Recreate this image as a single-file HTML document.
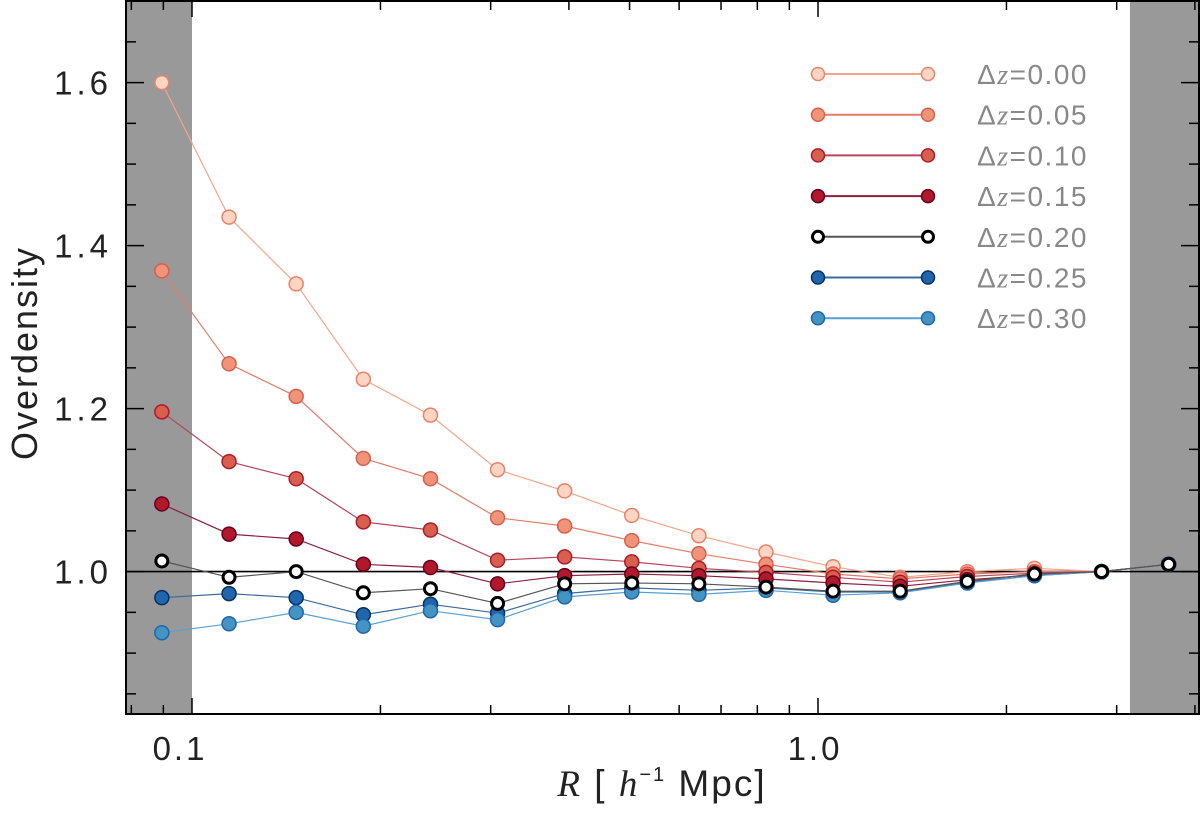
<!DOCTYPE html>
<html><head><meta charset="utf-8"><style>
body{margin:0;background:#fff;}
svg{display:block;font-family:"Liberation Sans",sans-serif;}
</style></head><body>
<svg id="chart" width="1200" height="820"></svg>
<script>
const radii=[0.0895,0.1146,0.1467,0.1878,0.2404,0.3077,0.3938,0.5041,0.6452,0.8259,1.057,1.353,1.732,2.217,2.838,3.632];
const labels=["Δz=0.00","Δz=0.05","Δz=0.10","Δz=0.15","Δz=0.20","Δz=0.25","Δz=0.30"];
const s000=[1.600,1.435,1.353,1.236,1.192,1.125,1.099,1.069,1.044,1.024,1.006,0.993,1.000,1.004,1.000,1.009];
const s005=[1.369,1.255,1.215,1.139,1.114,1.066,1.056,1.038,1.022,1.009,0.997,0.991,0.997,1.000,1.000,1.009];
const s010=[1.196,1.135,1.114,1.061,1.051,1.014,1.018,1.012,1.004,0.999,0.993,0.987,0.994,0.998,1.000,1.009];
const s015=[1.083,1.046,1.040,1.009,1.005,0.985,0.995,0.997,0.995,0.991,0.986,0.982,0.990,0.996,1.000,1.009];
const s020=[1.013,0.993,1.000,0.974,0.979,0.961,0.985,0.986,0.985,0.981,0.976,0.976,0.988,0.997,1.000,1.009];
const s025=[0.968,0.973,0.968,0.947,0.960,0.949,0.973,0.980,0.977,0.980,0.975,0.975,0.987,0.995,1.000,1.009];
const s030=[0.925,0.936,0.950,0.933,0.952,0.941,0.969,0.975,0.972,0.977,0.971,0.974,0.986,0.995,1.000,1.009];
const yTicks=[1.0,1.2,1.4,1.6];
const xTicks=[0.1,1.0];

const NS="http://www.w3.org/2000/svg";
const svg=document.getElementById('chart');
const L=126,R=1199,T=1,B=714;
function xs(v){return 818+626*Math.log10(v);}
function ys(v){return 571.6-(v-1)*815;}
function mk(tag,attrs,parent){const e=document.createElementNS(NS,tag);for(const k in attrs)e.setAttribute(k,attrs[k]);(parent||svg).appendChild(e);return e;}

let g=mk('rect',{x:L,y:T,width:xs(0.1)-L,height:B-T,fill:'#999'});


g=mk('rect',{x:xs(3.15),y:T,width:R-xs(3.15),height:B-T,fill:'#999'});



g=mk('line',{x1:L,x2:R,y1:ys(1),y2:ys(1),stroke:'#000','stroke-width':1.6});



const series=[s000,s005,s010,s015,s020,s025,s030];
const fills=['#fdd5c2','#f09479','#d6604d','#b2182b','#fff','#2166ac','#4393c3'];
const strokes=['#e8826a','#d6604d','#b2182b','#67001f','#000','#053061','#2166ac'];
const lines=['#f4a58a','#e07d68','#b8455a','#8a2040','#555','#3d6a9a','#5a9fd0'];
const order=[0,1,2,3,5,6,4];
order.forEach(i=>{
  const grp=mk('g',{});
  
  
  const pts=series[i].map((v,j)=>xs(radii[j]).toFixed(1)+','+ys(v).toFixed(1)).join(' ');
  mk('polyline',{points:pts,fill:'none',stroke:lines[i],'stroke-width':1.2},grp);
  series[i].forEach((v,j)=>{
    const c=mk('circle',{cx:xs(radii[j]),cy:ys(v),r:i===4?6:7,fill:fills[i],stroke:strokes[i],'stroke-width':i===4?3:1.5},grp);
    
    
  });
});

g=mk('rect',{x:L,y:T,width:R-L,height:B-T,fill:'none',stroke:'#000','stroke-width':2});



for(let k=0;k<=17;k++){
  const v=0.85+k*0.05; if(v>1.7)break;
  const y=ys(v); const major=yTicks.some(t=>Math.abs(t-v)<1e-6);
  const len=major?18:10;
  mk('line',{x1:L,x2:L+len,y1:y,y2:y,stroke:'#000','stroke-width':1.5});
  mk('line',{x1:R-len,x2:R,y1:y,y2:y,stroke:'#000','stroke-width':1.5});
}
yTicks.forEach(t=>{
  const e=mk('text',{x:112,y:ys(t)+12,'text-anchor':'end','font-size':33,'letter-spacing':4,fill:'#222'});
  e.textContent=t.toFixed(1);
  
  
});
[0.08,0.09,0.1,0.2,0.3,0.4,0.5,0.6,0.7,0.8,0.9,1,2,3,4].forEach(v=>{
  const x=xs(v); if(x<L||x>R)return;
  const major=(v===0.1||v===1);
  const len=major?16:9;
  mk('line',{x1:x,x2:x,y1:B,y2:B-len,stroke:'#000','stroke-width':1.5});
  mk('line',{x1:x,x2:x,y1:T,y2:T+len,stroke:'#000','stroke-width':1.5});
});
const xOff=[-12,-3];
xTicks.forEach((t,i)=>{
  const e=mk('text',{x:xs(t)+xOff[i],y:760,'text-anchor':'middle','font-size':33,'letter-spacing':3,fill:'#222'});
  e.textContent=t.toFixed(1);
  
  
});

g=mk('text',{x:0,y:0,transform:'translate(37,353) rotate(-90)','text-anchor':'middle','font-size':36,'letter-spacing':2,fill:'#222'});
g.textContent='Overdensity';


g=mk('text',{x:662,y:796,'text-anchor':'middle','font-size':37,'letter-spacing':2,fill:'#222'});
g.innerHTML='<tspan font-family="Liberation Serif" font-style="italic">R</tspan> [ <tspan font-family="Liberation Serif" font-style="italic">h</tspan><tspan font-size="20" dy="-15">−1</tspan><tspan dy="15"> Mpc</tspan>]';



const lg=mk('g',{});


labels.forEach((lab,i)=>{
  const y=74+i*40.7;
  const eg=mk('g',{},lg);
  
  
  mk('line',{x1:818,x2:928,y1:y,y2:y,stroke:lines[i],'stroke-width':2},eg);
  [818,928].forEach(x=>mk('circle',{cx:x,cy:y,r:i===4?5.5:6.5,fill:fills[i],stroke:strokes[i],'stroke-width':i===4?3:1.5},eg));
  const t=mk('text',{x:977,y:y+10,'font-size':28,fill:'#888','letter-spacing':1.5},eg);
  t.innerHTML='Δ<tspan font-family="Liberation Serif" font-style="italic">z</tspan>='+lab.slice(3);
});
</script>
</body></html>
